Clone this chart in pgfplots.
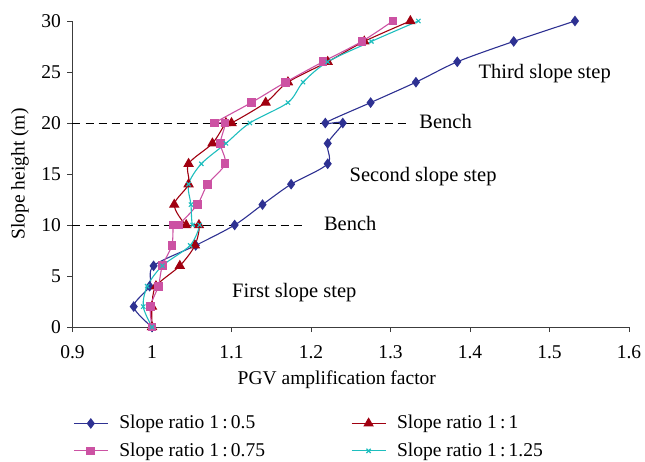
\documentclass[border=0pt]{standalone}
\usepackage{pgfplots}
\pgfplotsset{compat=1.18}
\usepackage{fontspec}
\setmainfont{Liberation Serif}
\definecolor{cblue}{RGB}{46,49,146}
\definecolor{cpink}{RGB}{204,82,163}
\definecolor{cred}{RGB}{160,0,16}
\definecolor{ccyan}{RGB}{30,190,190}
\definecolor{axgray}{RGB}{60,60,60}
\begin{document}
\fontsize{19.5}{23}\selectfont
\begin{tikzpicture}
\useasboundingbox (-72.5pt,-134pt) rectangle (572.5pt,327pt);
\begin{axis}[
  scale only axis,
  width=556.5pt, height=306pt,
  xmin=0.9, xmax=1.6, ymin=0, ymax=30,
  xtick={0.9,1,1.1,1.2,1.3,1.4,1.5,1.6},
  xticklabels={0.9,1,1.1,1.2,1.3,1.4,1.5,1.6},
  ytick={0,5,10,15,20,25,30},
  axis x line*=bottom, axis y line*=left,
  axis line style={axgray, line width=0.8pt},
  tick style={axgray, line width=0.8pt},
  tick align=outside, major tick length=5pt,
  /pgf/number format/assume math mode=true,
  tick label style={font=\fontsize{19.5}{23}\selectfont},
  xticklabel style={yshift=-7pt},
  xlabel={PGV amplification factor},
  ylabel={Slope height (m)},
  xlabel style={font=\fontsize{18.8}{22}\selectfont},
  ylabel style={font=\fontsize{19}{22}\selectfont},
  every axis x label/.style={at={(axis description cs:0.475,-0.173)}, anchor=center},
  every axis y label/.style={at={(axis description cs:-0.0943,0.5)}, rotate=90, anchor=center},
  legend columns=2,
  legend style={draw=none, fill=none, inner sep=0pt, at={(axis description cs:0.001,-0.281)}, anchor=north west,
    font=\fontsize{19.5}{23}\selectfont, row sep=7pt,
    /tikz/every odd column/.append style={column sep=9pt},
    /tikz/every even column/.append style={column sep=84pt}},
  legend cell align=left,
  legend image code/.code={\draw[mark repeat=2,mark phase=2] plot coordinates {(0pt,0pt) (17pt,0pt) (34pt,0pt)};},
  clip=false,
]
\addplot[black, line width=0.9pt, dash pattern=on 8pt off 5pt, forget plot] coordinates {(0.9,10) (1.19,10)};
\addplot[black, line width=0.9pt, dash pattern=on 8pt off 5pt, forget plot] coordinates {(0.9,20) (1.32,20)};

\addplot[cblue, line width=1.1pt, smooth, mark=diamond*, mark size=4.5pt, mark options={solid, fill=cblue}] coordinates {
(1.000,0) (0.977,2) (0.997,4) (1.002,6) (1.055,8) (1.104,10) (1.139,12) (1.175,14) (1.221,16) (1.221,18) (1.240,20) (1.218,20) (1.275,22) (1.332,24) (1.384,26) (1.455,28) (1.532,30)};
\addlegendentry{Slope ratio 1\,:\,0.5}

\addplot[cred, line width=1.1pt, smooth, mark=triangle*, mark size=5pt, mark options={solid, fill=cred}] coordinates {
(1.000,0) (1.000,2) (1.005,4) (1.035,6) (1.054,8) (1.059,10) (1.043,10) (1.028,12) (1.046,14) (1.046,16) (1.076,18) (1.093,20) (1.100,20) (1.143,22) (1.171,24) (1.221,26) (1.267,28) (1.325,30)};
\addlegendentry{Slope ratio 1\,:\,1}

\addplot[cpink, line width=1.1pt, smooth, mark=square*, mark size=3.8pt, mark options={solid, fill=cpink}] coordinates {
(1.000,0) (0.998,2) (1.008,4) (1.013,6) (1.025,8) (1.027,10) (1.033,10) (1.057,12) (1.070,14) (1.092,16) (1.086,18) (1.092,20) (1.079,20) (1.125,22) (1.168,24) (1.215,26) (1.264,28) (1.303,30)};
\addlegendentry{Slope ratio 1\,:\,0.75}

\addplot[ccyan, line width=1.1pt, smooth, mark=x, mark size=3pt, mark options={solid}] coordinates {
(1.000,0) (0.989,2) (0.994,4) (1.013,6) (1.048,8) (1.060,10) (1.051,10) (1.049,12) (1.046,14) (1.062,16) (1.093,18) (1.123,20) (1.171,22) (1.190,24) (1.221,26) (1.276,28) (1.335,30)};
\addlegendentry{Slope ratio 1\,:\,1.25}

\node[anchor=center, font=\fontsize{20.5}{24}\selectfont] at (axis cs:1.494,24.8) {Third slope step};
\node[anchor=center, font=\fontsize{20.5}{24}\selectfont] at (axis cs:1.341,14.7) {Second slope step};
\node[anchor=center, font=\fontsize{20.5}{24}\selectfont] at (axis cs:1.179,3.4) {First slope step};
\node[anchor=west, font=\fontsize{20.5}{24}\selectfont] at (axis cs:1.208,10.1) {Bench};
\node[anchor=west, font=\fontsize{20.5}{24}\selectfont] at (axis cs:1.328,20.1) {Bench};
\end{axis}
\end{tikzpicture}
\end{document}
